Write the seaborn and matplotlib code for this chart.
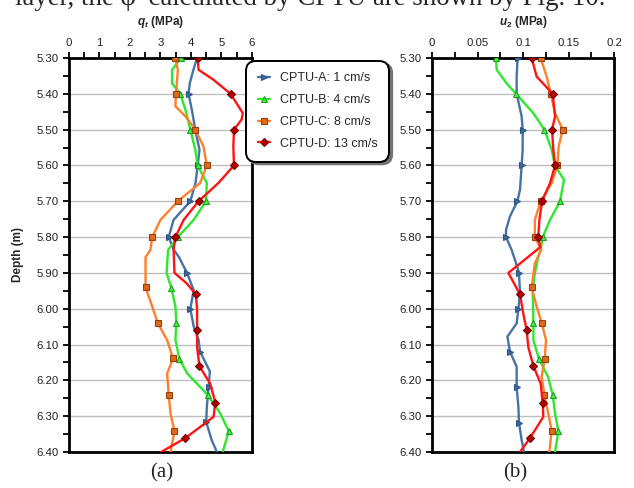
import numpy as np
import pandas as pd
import matplotlib
matplotlib.use("Agg")
import matplotlib.pyplot as plt
from matplotlib.ticker import MultipleLocator, FuncFormatter, FormatStrFormatter
import seaborn as sns

# ---------------- data ----------------
series_names = ["CPTU-A: 1 cm/s", "CPTU-B: 4 cm/s", "CPTU-C: 8 cm/s", "CPTU-D: 13 cm/s"]

# q_t (MPa) panel (a)
qt_A_depth = [5.300, 5.333, 5.371, 5.400, 5.445, 5.500, 5.556, 5.600, 5.649, 5.700, 5.752, 5.800, 5.835, 5.855, 5.900, 5.948, 6.000, 6.050, 6.087, 6.120, 6.175, 6.218, 6.274, 6.316, 6.367, 6.400]
qt_A_value = [4.20, 4.08, 3.96, 3.92, 4.03, 4.14, 4.28, 4.22, 4.15, 3.98, 3.43, 3.27, 3.43, 3.60, 3.87, 4.09, 3.98, 4.09, 4.25, 4.30, 4.62, 4.58, 4.52, 4.50, 4.68, 4.85]
qt_A_marks = [3, 7, 9, 11, 14, 16, 19, 21, 23]

qt_B_depth = [5.300, 5.333, 5.371, 5.400, 5.445, 5.500, 5.556, 5.600, 5.649, 5.700, 5.752, 5.800, 5.836, 5.900, 5.943, 5.994, 6.040, 6.087, 6.140, 6.180, 6.241, 6.292, 6.342, 6.400]
qt_B_value = [3.67, 3.38, 3.38, 3.65, 3.82, 3.98, 4.14, 4.22, 4.52, 4.49, 4.09, 3.57, 3.25, 3.20, 3.36, 3.49, 3.52, 3.49, 3.62, 3.87, 4.55, 4.96, 5.24, 5.04]
qt_B_marks = [0, 3, 5, 7, 9, 11, 14, 16, 18, 20, 22]

qt_C_depth = [5.300, 5.333, 5.400, 5.435, 5.463, 5.500, 5.547, 5.600, 5.649, 5.700, 5.752, 5.800, 5.836, 5.856, 5.940, 5.994, 6.040, 6.088, 6.139, 6.181, 6.241, 6.293, 6.341, 6.400]
qt_C_value = [3.49, 3.57, 3.51, 3.49, 3.82, 4.14, 4.41, 4.52, 4.30, 3.57, 3.00, 2.73, 2.67, 2.51, 2.51, 2.73, 2.91, 3.22, 3.41, 3.22, 3.27, 3.33, 3.46, 3.33]
qt_C_marks = [0, 2, 5, 7, 9, 11, 14, 16, 18, 20, 22]

qt_D_depth = [5.300, 5.333, 5.361, 5.400, 5.454, 5.472, 5.500, 5.547, 5.600, 5.649, 5.700, 5.752, 5.800, 5.836, 5.900, 5.930, 5.960, 6.000, 6.060, 6.107, 6.161, 6.209, 6.262, 6.302, 6.361, 6.400]
qt_D_value = [4.22, 4.25, 4.74, 5.30, 5.70, 5.66, 5.41, 5.39, 5.41, 4.90, 4.25, 3.76, 3.49, 3.43, 3.46, 3.87, 4.16, 4.20, 4.20, 4.20, 4.28, 4.63, 4.80, 4.74, 3.82, 3.02]
qt_D_marks = [0, 3, 6, 8, 10, 12, 16, 18, 20, 22, 24]

# u_2 (MPa) panel (b)
u2_A_depth = [5.300, 5.352, 5.400, 5.463, 5.500, 5.556, 5.600, 5.668, 5.700, 5.742, 5.780, 5.800, 5.836, 5.864, 5.900, 5.957, 6.000, 6.041, 6.078, 6.120, 6.162, 6.218, 6.274, 6.318, 6.367, 6.400]
u2_A_value = [0.0941, 0.0930, 0.0930, 0.0985, 0.0996, 0.0996, 0.0985, 0.0967, 0.0938, 0.0857, 0.0813, 0.0813, 0.0875, 0.0912, 0.0956, 0.0967, 0.0949, 0.0930, 0.0828, 0.0857, 0.0930, 0.0930, 0.0949, 0.0956, 0.0985, 0.1011]
u2_A_marks = [0, 4, 6, 8, 11, 14, 16, 19, 21, 23]

u2_B_depth = [5.300, 5.333, 5.371, 5.400, 5.454, 5.500, 5.556, 5.600, 5.640, 5.700, 5.752, 5.800, 5.836, 5.855, 5.901, 5.948, 6.041, 6.088, 6.141, 6.190, 6.241, 6.292, 6.342, 6.400]
u2_B_value = [0.0703, 0.0711, 0.0820, 0.0923, 0.1113, 0.1234, 0.1315, 0.1350, 0.1450, 0.1407, 0.1297, 0.1216, 0.1194, 0.1168, 0.1130, 0.1106, 0.1114, 0.1114, 0.1176, 0.1275, 0.1326, 0.1352, 0.1388, 0.1352]
u2_B_marks = [0, 3, 5, 9, 11, 16, 18, 20, 22]

u2_C_depth = [5.300, 5.352, 5.400, 5.454, 5.500, 5.547, 5.600, 5.649, 5.700, 5.752, 5.800, 5.835, 5.874, 5.940, 5.994, 6.040, 6.088, 6.141, 6.190, 6.241, 6.293, 6.341, 6.400]
u2_C_value = [0.1194, 0.1260, 0.1304, 0.1352, 0.1436, 0.1392, 0.1377, 0.1315, 0.1194, 0.1130, 0.1130, 0.1200, 0.1130, 0.1095, 0.1150, 0.1205, 0.1253, 0.1238, 0.1205, 0.1234, 0.1278, 0.1315, 0.1289]
u2_C_marks = [0, 2, 4, 6, 8, 10, 13, 15, 17, 19, 21]

u2_D_depth = [5.300, 5.352, 5.400, 5.463, 5.500, 5.556, 5.600, 5.649, 5.700, 5.752, 5.800, 5.828, 5.900, 5.960, 6.014, 6.060, 6.107, 6.160, 6.209, 6.262, 6.302, 6.361, 6.400]
u2_D_value = [0.1095, 0.1150, 0.1326, 0.1352, 0.1319, 0.1333, 0.1352, 0.1297, 0.1209, 0.1180, 0.1168, 0.1190, 0.0839, 0.0967, 0.1003, 0.1040, 0.1058, 0.1114, 0.1194, 0.1216, 0.1223, 0.1077, 0.0967]
u2_D_marks = [0, 2, 4, 6, 8, 10, 13, 15, 17, 19, 21]

depth_ticks = [5.30, 5.40, 5.50, 5.60, 5.70, 5.80, 5.90, 6.00, 6.10, 6.20, 6.30, 6.40]

# ---------------- styles ----------------
styles = [
    dict(color="#4673A6", marker=">", mfc="#3E6A9C", mec="#2B5583", ms=5.0),
    dict(color="#2EE82E", marker="^", mfc="#44F044", mec="#1F9E1F", ms=5.0),
    dict(color="#FF7F2A", marker="s", mfc="#E0691C", mec="#93440E", ms=4.6),
    dict(color="#FF1414", marker="D", mfc="#B00000", mec="#7A0000", ms=3.6),
]

sns.set_theme(style="white")
plt.rcParams["font.family"] = ["Liberation Sans", "DejaVu Sans"]
plt.rcParams["mathtext.fontset"] = "custom"
plt.rcParams["mathtext.it"] = "Liberation Sans:italic:bold"
plt.rcParams["mathtext.rm"] = "Liberation Sans:bold"
plt.rcParams["mathtext.bf"] = "Liberation Sans:bold"

fig = plt.figure(figsize=(6.34, 4.88), dpi=100)
ax_a = fig.add_axes([0.1088, 0.0738, 0.2886, 0.8074])
ax_b = fig.add_axes([0.6814, 0.0738, 0.2871, 0.8074])

panel_a = [(qt_A_depth, qt_A_value, qt_A_marks), (qt_B_depth, qt_B_value, qt_B_marks),
           (qt_C_depth, qt_C_value, qt_C_marks), (qt_D_depth, qt_D_value, qt_D_marks)]
panel_b = [(u2_A_depth, u2_A_value, u2_A_marks), (u2_B_depth, u2_B_value, u2_B_marks),
           (u2_C_depth, u2_C_value, u2_C_marks), (u2_D_depth, u2_D_value, u2_D_marks)]

for ax, panel in [(ax_a, panel_a), (ax_b, panel_b)]:
    for name, (d, v, mk), st in zip(series_names, panel, styles):
        sns.lineplot(x=v, y=d, ax=ax, sort=False, estimator=None, label=name,
                     color=st["color"], lw=1.7, marker=st["marker"], markevery=mk,
                     markerfacecolor=st["mfc"], markeredgecolor=st["mec"],
                     markersize=st["ms"], markeredgewidth=0.8, zorder=3)

def fmt_x(x, pos):
    return f"{x:g}"

for ax, xmax, xmaj, xmin, title in [(ax_a, 6, 1, 0.5, r"$q_t$ (MPa)"),
                                    (ax_b, 0.2, 0.05, 0.025, r"$u_2$ (MPa)")]:
    ax.set_xlim(0, xmax)
    ax.set_ylim(6.40, 5.30)
    ax.xaxis.set_major_locator(MultipleLocator(xmaj))
    ax.xaxis.set_minor_locator(MultipleLocator(xmin))
    ax.xaxis.set_major_formatter(FuncFormatter(fmt_x))
    ax.set_yticks(depth_ticks)
    ax.yaxis.set_minor_locator(MultipleLocator(0.05))
    ax.yaxis.set_major_formatter(FormatStrFormatter("%.2f"))
    ax.xaxis.tick_top()
    ax.xaxis.set_label_position("top")
    ax.tick_params(axis="both", which="both", direction="out", length=4.5, width=1.3,
                   color="black", labelsize=8.2, labelcolor="#222222", pad=3)
    ax.tick_params(axis="x", which="both", top=True, bottom=False)
    ax.tick_params(axis="y", which="both", left=True, right=False)
    ax.grid(axis="y", which="major", color="#BDBDBD", lw=1.0)
    ax.grid(axis="x", visible=False)
    for sp in ax.spines.values():
        sp.set_visible(True)
        sp.set_color("black")
        sp.set_linewidth(2.0)
    ax.set_xlabel(title, fontsize=8.5, fontweight="bold", labelpad=9)
    ax.set_ylabel("")
    lg = ax.get_legend()
    if lg is not None:
        lg.remove()

ax_a.set_ylabel("Depth (m)", fontsize=8.5, fontweight="bold", labelpad=9)

handles, labels = ax_a.get_legend_handles_labels()
leg = fig.legend(handles, labels, loc="upper left", bbox_to_anchor=(0.3880, 0.876),
                 borderaxespad=0, fontsize=9.0, frameon=True, fancybox=True,
                 shadow={"color": "0.45", "alpha": 1.0}, handlelength=1.0,
                 handletextpad=0.75, borderpad=0.95, labelspacing=0.78)
for h in leg.legend_handles:
    h.set_markevery([1])
frame = leg.get_frame()
frame.set_edgecolor("black")
frame.set_linewidth(1.4)
frame.set_facecolor("white")
frame.set_alpha(1)
frame.set_boxstyle("round,pad=0,rounding_size=0.8")

serif = ["Liberation Serif", "DejaVu Serif"]
fig.text(0.489, 0.990, "layer, the φ′ calculated by CPTU are shown by Fig. 10.",
         ha="center", va="baseline", fontsize=19.4, family=serif)
fig.text(0.255, 0.022, "(a)", ha="center", va="baseline", fontsize=15, family=serif)
fig.text(0.812, 0.022, "(b)", ha="center", va="baseline", fontsize=15, family=serif)

fig.savefig("out.png", dpi=100)
